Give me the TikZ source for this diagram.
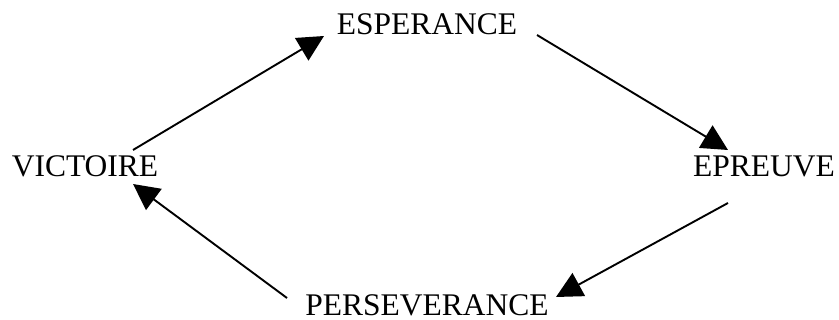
\documentclass[tikz,border=0pt]{standalone}
\usepackage{fontspec}
\setmainfont{Liberation Serif}
\usetikzlibrary{arrows.meta}
\begin{document}
\begin{tikzpicture}[x=1pt,y=1pt,
  lbl/.style={anchor=base,inner sep=0pt,font=\fontsize{31.5}{36}\selectfont},
  conn/.style={line width=1.9pt,-{Triangle[length=26pt,width=26pt]}}]
\useasboundingbox (0,0) rectangle (839,-320);
\node[lbl] (vic) at (85,-177) {VICTOIRE};
\node[lbl] (esp) at (427,-35) {ESPERANCE};
\node[lbl] (epr) at (764,-177) {EPREUVE};
\node[lbl] (per) at (427,-316) {PERSEVERANCE};
\draw[conn] ([shift={(48,27)}]vic.base) -- ([shift={(-103,-1)}]esp.base);
\draw[conn] ([shift={(110,0)}]esp.base) -- ([shift={(-36,27)}]epr.base);
\draw[conn] ([shift={(-36,-26)}]epr.base) -- ([shift={(129,19)}]per.base);
\draw[conn] ([shift={(-140,18)}]per.base) -- ([shift={(48,-7)}]vic.base);
\end{tikzpicture}
\end{document}
